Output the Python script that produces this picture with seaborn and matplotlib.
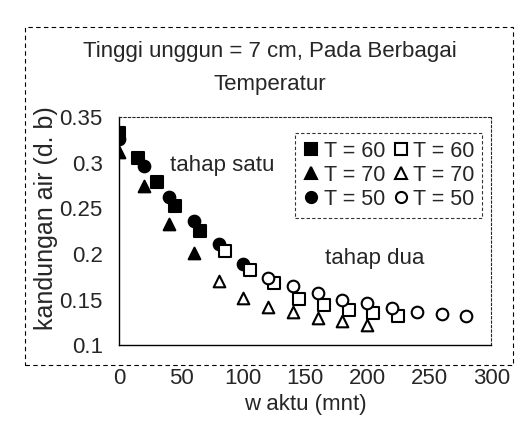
import numpy as np
import pandas as pd
import seaborn as sns
import matplotlib.pyplot as plt
from matplotlib.patches import Rectangle

# T = 60 (tahap satu = filled, tahap dua = open)
x60_satu = [0, 15, 30, 45, 65]
y60_satu = [0.332, 0.305, 0.279, 0.252, 0.225]
x60_dua = [85, 105, 125, 145, 165, 185, 205, 225]
y60_dua = [0.203, 0.183, 0.168, 0.151, 0.144, 0.139, 0.136, 0.132]

# T = 70
x70_satu = [0, 20, 40, 60]
y70_satu = [0.311, 0.274, 0.233, 0.201]
x70_dua = [80, 100, 120, 140, 160, 180, 200]
y70_dua = [0.170, 0.152, 0.142, 0.137, 0.130, 0.127, 0.122]

# T = 50
x50_satu = [0, 20, 40, 60, 80, 100]
y50_satu = [0.326, 0.296, 0.262, 0.236, 0.211, 0.189]
x50_dua = [120, 140, 160, 180, 200, 220, 240, 260, 280]
y50_dua = [0.174, 0.165, 0.157, 0.150, 0.146, 0.141, 0.137, 0.134, 0.132]

x_ticks = [0, 50, 100, 150, 200, 250, 300]
y_ticks = [0.1, 0.15, 0.2, 0.25, 0.3, 0.35]
y_ticklabels = ['0.1', '0.15', '0.2', '0.25', '0.3', '0.35']


def main():
    sns.set_style("white")
    plt.rcParams['font.family'] = ['Liberation Sans', 'DejaVu Sans']

    fig = plt.figure(figsize=(5.31, 4.44), dpi=100)
    ax = fig.add_axes([0.225, 0.222, 0.70, 0.515])

    # outer dashed frame of the chart
    fig.patches.append(Rectangle((0.048, 0.178), 0.918, 0.762, transform=fig.transFigure,
                                 fill=False, ec='black', lw=0.8, ls=(0, (4, 3))))

    series = [
        (x60_satu, y60_satu, 's', 'black', 'T = 60'),
        (x70_satu, y70_satu, '^', 'black', 'T = 70'),
        (x50_satu, y50_satu, 'o', 'black', 'T = 50'),
        (x60_dua, y60_dua, 's', 'white', 'T = 60'),
        (x70_dua, y70_dua, '^', 'white', 'T = 70'),
        (x50_dua, y50_dua, 'o', 'white', 'T = 50'),
    ]
    handles = []
    for xs, ys, m, fc, lab in series:
        df = pd.DataFrame({'x': xs, 'y': ys})
        sns.scatterplot(data=df, x='x', y='y', marker=m, color=fc, edgecolor='black',
                        linewidth=1.5, s=70, ax=ax, zorder=3)
        handles.append(plt.Line2D([], [], ls='none', marker=m, mfc=fc, mec='black',
                                  mew=1.5, ms=8, label=lab))

    ax.set_xlim(0, 300)
    ax.set_ylim(0.1, 0.35)
    ax.set_xticks(x_ticks)
    ax.set_yticks(y_ticks)
    ax.set_yticklabels(y_ticklabels)
    ax.tick_params(axis='both', labelsize=16, length=4, direction='in')
    ax.tick_params(axis='x', pad=16)
    ax.tick_params(axis='y', pad=12)

    for side in ['top', 'right']:
        ax.spines[side].set_linestyle((0, (2, 2)))
        ax.spines[side].set_linewidth(0.8)
    for side in ['left', 'bottom']:
        ax.spines[side].set_linewidth(1.0)
        ax.spines[side].set_color('black')

    ax.set_xlabel("w aktu (mnt)", fontsize=16, labelpad=4)
    ax.set_ylabel("kandungan air (d. b)", fontsize=18, labelpad=0)
    ax.yaxis.set_label_coords(-0.166, 0.557)

    # title centred on the outer frame, not on the axes
    fig.text(0.508, 1 - 51 / 444, "Tinggi unggun = 7 cm, Pada Berbagai", fontsize=16,
             ha='center', va='center')
    fig.text(0.508, 1 - 84 / 444, "Temperatur", fontsize=16, ha='center', va='center')

    ax.text(83, 0.297, "tahap satu", fontsize=16, ha='center', va='center')
    ax.text(206, 0.195, "tahap dua", fontsize=16, ha='center', va='center')

    leg = ax.legend(handles=handles, ncol=2, loc='upper left',
                    bbox_to_anchor=(295 / 531, 1 - 133 / 444), bbox_transform=fig.transFigure,
                    fontsize=15.5, frameon=True, fancybox=False, handletextpad=0.2,
                    columnspacing=0.3, labelspacing=0.15, borderpad=0.35, handlelength=0.8,
                    borderaxespad=0)
    leg.get_frame().set_edgecolor('black')
    leg.get_frame().set_linestyle((0, (3, 2)))
    leg.get_frame().set_linewidth(0.8)

    fig.savefig("out.png", dpi=100)


if __name__ == "__main__":
    main()
